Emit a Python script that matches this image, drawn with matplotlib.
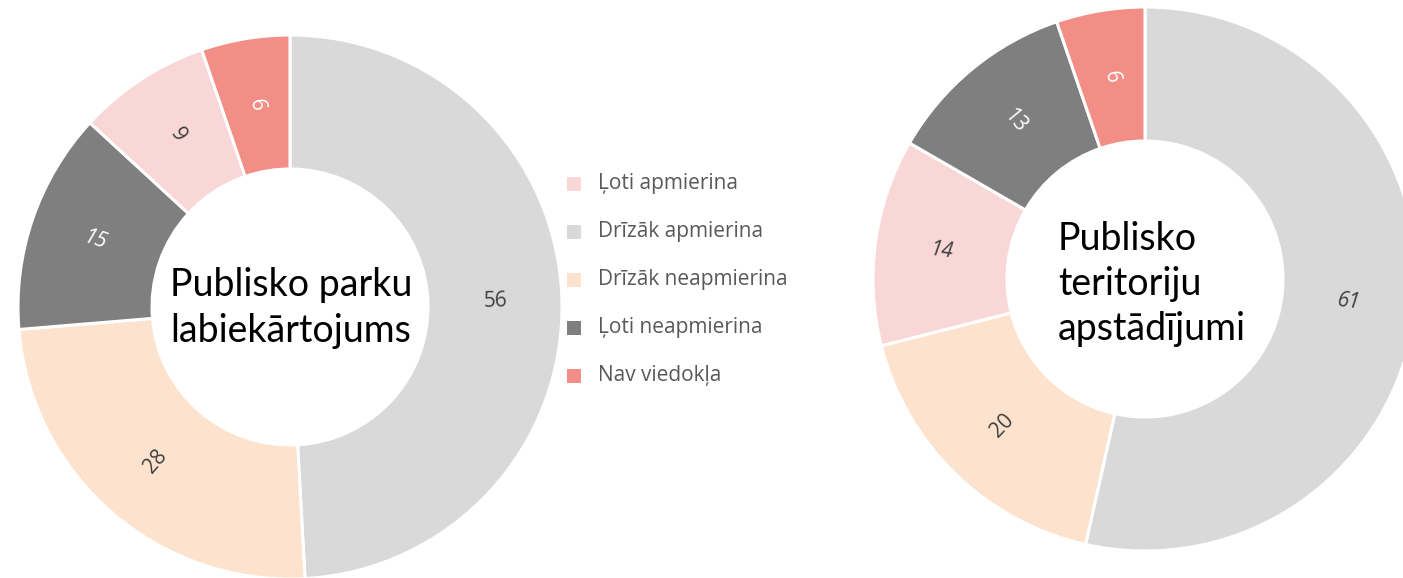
import matplotlib
matplotlib.use("Agg")
import matplotlib.pyplot as plt
from matplotlib.patches import Rectangle
import numpy as np

categories = ["Ļoti apmierina", "Drīzāk apmierina", "Drīzāk neapmierina",
              "Ļoti neapmierina", "Nav viedokļa"]
colors = {"Ļoti apmierina": "#F9D7D6", "Drīzāk apmierina": "#D9D9D9",
          "Drīzāk neapmierina": "#FDE2CD", "Ļoti neapmierina": "#7F7F7F",
          "Nav viedokļa": "#F28E86"}

# left donut (clockwise from top)
left_order = ["Drīzāk apmierina", "Drīzāk neapmierina", "Ļoti neapmierina",
              "Ļoti apmierina", "Nav viedokļa"]
left_values = [56, 28, 15, 9, 6]
left_title = "Publisko parku\nlabiekārtojums"

# right donut (clockwise from top)
right_order = ["Drīzāk apmierina", "Drīzāk neapmierina", "Ļoti apmierina",
               "Ļoti neapmierina", "Nav viedokļa"]
right_values = [61, 20, 14, 13, 6]
right_title = "Publisko\nteritoriju\napstādījumi"

W, H = 1403, 578
fig = plt.figure(figsize=(W / 100, H / 100), dpi=100)
ax = fig.add_axes([0, 0, 1, 1])
ax.set_xlim(0, W)
ax.set_ylim(0, H)
ax.set_aspect("equal")
ax.axis("off")

R = 272
hole = 138
width = R - hole

light_text = {"Ļoti neapmierina", "Nav viedokļa"}


def donut(cx, cy, order, values, italic_idx):
    cols = [colors[c] for c in order]
    wedges, _ = ax.pie(values, colors=cols, startangle=90, counterclock=False,
                       radius=R, center=(cx, cy), frame=True,
                       wedgeprops=dict(width=width, edgecolor="white", linewidth=2.2))
    for i, (w, v, c) in enumerate(zip(wedges, values, order)):
        ang = (w.theta1 + w.theta2) / 2.0
        rr = hole + width / 2.0
        x = cx + rr * np.cos(np.radians(ang))
        y = cy + rr * np.sin(np.radians(ang))
        rot = ((ang + 180) % 360) - 180
        if rot > 90:
            rot -= 180
        elif rot < -90:
            rot += 180
        tc = "white" if c in light_text else "#404040"
        ax.text(x, y, str(v), ha="center", va="center", rotation=rot,
                rotation_mode="anchor", fontsize=15, color=tc,
                family="Open Sans",
                style="italic" if i in italic_idx else "normal")


donut(290, H - 307, left_order, left_values, italic_idx={2})
donut(1145, H - 279, right_order, right_values, italic_idx={0, 2})
ax.set_xlim(0, W)
ax.set_ylim(0, H)
ax.axis("off")

ax.text(291, H - 308, left_title, ha="center", va="center", fontsize=27,
        family="Lato", color="black", linespacing=1.32)
ax.text(1058, H - 284, right_title, ha="left", va="center", fontsize=27,
        family="Lato", color="black", linespacing=1.32)

# legend
for k, cat in enumerate(categories):
    yc = H - (184 + 48 * k)
    ax.add_patch(Rectangle((567, yc - 7), 14, 14, facecolor=colors[cat],
                           edgecolor="none"))
    ax.text(598, yc, cat, ha="left", va="center", fontsize=15,
            family="Open Sans", color="#595959")

fig.savefig("out.png", dpi=100)
